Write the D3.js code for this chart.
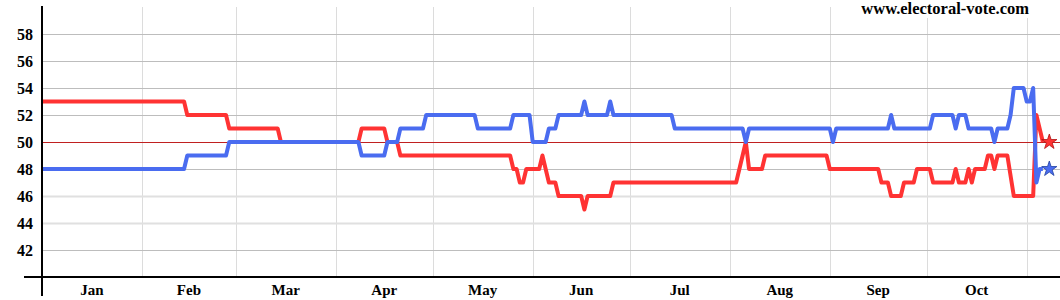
<!DOCTYPE html>
<html>
<head>
<meta charset="utf-8">
<script src="https://cdn.jsdelivr.net/npm/d3@7"></script>
<style>
  body { margin: 0; background: #fff; }
  svg text { font-family: "Liberation Serif", "Times New Roman", serif; font-weight: bold; fill: #000; }
</style>
</head>
<body>
<div id="chart"></div>
<script>
const yTicks = [42, 44, 46, 48, 50, 52, 54, 56, 58];
const months = ["Jan", "Feb", "Mar", "Apr", "May", "Jun", "Jul", "Aug", "Sep", "Oct"];
const monthStarts = ["01-01", "02-01", "03-01", "04-01", "05-01", "06-01",
  "07-01", "08-01", "09-01", "10-01", "11-01"];

// red series, vertices as [date, value]
const redPoints = [
  ["01-01", 53], ["02-14", 53], ["02-15", 52], ["02-27", 52], ["02-28", 51],
  ["03-14", 51], ["03-15", 50], ["04-08", 50], ["04-09", 51], ["04-16", 51],
  ["04-17", 50], ["04-20", 50], ["04-21", 49], ["05-25", 49], ["05-26", 48],
  ["05-27", 48], ["05-28", 47], ["05-29", 47], ["05-30", 48], ["06-03", 48],
  ["06-04", 49], ["06-06", 47], ["06-08", 47], ["06-09", 46], ["06-16", 46],
  ["06-17", 45], ["06-18", 46], ["06-25", 46], ["06-26", 47], ["08-03", 47],
  ["08-06", 50], ["08-07", 48], ["08-11", 48], ["08-12", 49], ["08-31", 49],
  ["09-01", 48], ["09-16", 48], ["09-17", 47], ["09-19", 47], ["09-20", 46],
  ["09-23", 46], ["09-24", 47], ["09-27", 47], ["09-28", 48], ["10-02", 48],
  ["10-03", 47], ["10-09", 47], ["10-10", 48], ["10-11", 47], ["10-13", 47],
  ["10-14", 48], ["10-15", 47], ["10-16", 48], ["10-19", 48], ["10-20", 49],
  ["10-21", 49], ["10-22", 48], ["10-23", 49], ["10-26", 49], ["10-28", 46],
  ["11-03", 46], ["11-04", 52], ["11-05", 51], ["11-06", 50],
];

// blue series
const bluePoints = [
  ["01-01", 48], ["02-14", 48], ["02-15", 49], ["02-27", 49], ["02-28", 50],
  ["04-08", 50], ["04-09", 49], ["04-16", 49], ["04-17", 50], ["04-20", 50],
  ["04-21", 51], ["04-28", 51], ["04-29", 52], ["05-14", 52], ["05-15", 51],
  ["05-25", 51], ["05-26", 52], ["05-31", 52], ["06-01", 50], ["06-05", 50],
  ["06-06", 51], ["06-08", 51], ["06-09", 52], ["06-16", 52], ["06-17", 53],
  ["06-18", 52], ["06-24", 52], ["06-25", 53], ["06-26", 52], ["07-14", 52],
  ["07-15", 51], ["08-05", 51], ["08-06", 50], ["08-07", 51], ["09-01", 51],
  ["09-02", 50], ["09-03", 51], ["09-19", 51], ["09-20", 52], ["09-21", 51],
  ["10-02", 51], ["10-03", 52], ["10-09", 52], ["10-10", 51], ["10-11", 52],
  ["10-13", 52], ["10-14", 51], ["10-21", 51], ["10-22", 50], ["10-23", 51],
  ["10-26", 51], ["10-27", 52], ["10-28", 54], ["10-31", 54], ["11-01", 53],
  ["11-02", 53], ["11-03", 54], ["11-04", 47], ["11-05", 48], ["11-06", 48],
];

// final results (stars)
const finals = [["11-08", 50, "red"], ["11-08", 48, "blue"]];

const W = 1060, H = 300;
const parse = (s) => d3.timeParse("%Y-%m-%d")("2008-" + s);

const x = d3.scaleTime()
  .domain([parse("01-01"), parse("11-11")])
  .range([42, 1059]);
const y = d3.scaleLinear().domain([40, 60]).range([277, 7]);

const colors = { red: "#ff3333", blue: "#4a6cf0" };
const starStroke = { red: "#b01010", blue: "#2040a0" };

const svg = d3.select("#chart").append("svg")
  .attr("width", W)
  .attr("height", H);

// vertical month gridlines
svg.append("g")
  .selectAll("line")
  .data(monthStarts.slice(1))
  .enter()
  .append("line")
  .attr("x1", (d) => Math.round(x(parse(d))) + 0.5)
  .attr("x2", (d) => Math.round(x(parse(d))) + 0.5)
  .attr("y1", 7)
  .attr("y2", 277)
  .attr("stroke", "#dcdcdc");

// horizontal gridlines
svg.append("g")
  .selectAll("line")
  .data(yTicks.filter((v) => v !== 50))
  .enter()
  .append("line")
  .attr("x1", 42)
  .attr("x2", W)
  .attr("y1", (d) => Math.round(y(d)) + 0.5)
  .attr("y2", (d) => Math.round(y(d)) + 0.5)
  .attr("stroke", (d) => (d === 44 || d === 46 ? "#e0e0e0" : "#bdbdbd"))
  .attr("stroke-width", (d) => (d === 44 || d === 46 ? 2 : 1));

// 50% line
svg.append("line")
  .attr("x1", 42)
  .attr("x2", W)
  .attr("y1", Math.round(y(50)) + 0.5)
  .attr("y2", Math.round(y(50)) + 0.5)
  .attr("stroke", "#c02020");

// title box
svg.append("rect")
  .attr("x", 855)
  .attr("y", 0)
  .attr("width", 178)
  .attr("height", 18)
  .attr("fill", "#fff");
svg.append("text")
  .attr("x", 1029)
  .attr("y", 14)
  .attr("text-anchor", "end")
  .style("font-size", "16.5px")
  .text("www.electoral-vote.com");

// series lines
const line = d3.line()
  .x((d) => x(parse(d[0])))
  .y((d) => y(d[1]));

[["red", redPoints], ["blue", bluePoints]].forEach(([key, pts]) => {
  svg.append("path")
    .datum(pts)
    .attr("d", line)
    .attr("fill", "none")
    .attr("stroke", colors[key])
    .attr("stroke-width", 4)
    .attr("stroke-linejoin", "round");
});

// stars
svg.append("g")
  .selectAll("path")
  .data(finals)
  .enter()
  .append("path")
  .attr("d", d3.symbol().type(d3.symbolStar).size(72))
  .attr("transform", (d) => `translate(${x(parse(d[0]))},${y(d[1])})`)
  .attr("fill", (d) => colors[d[2]])
  .attr("stroke", (d) => starStroke[d[2]])
  .attr("stroke-width", 0.8);

// axes lines
svg.append("line")
  .attr("x1", 42).attr("x2", 42)
  .attr("y1", 6).attr("y2", 296)
  .attr("stroke", "#000").attr("stroke-width", 2);
svg.append("line")
  .attr("x1", 24).attr("x2", W)
  .attr("y1", 277).attr("y2", 277)
  .attr("stroke", "#000").attr("stroke-width", 2);

// y tick labels
svg.append("g")
  .selectAll("text")
  .data(yTicks)
  .enter()
  .append("text")
  .attr("x", 33)
  .attr("y", (d) => y(d))
  .attr("dy", "0.35em")
  .attr("text-anchor", "end")
  .style("font-size", "16px")
  .text((d) => d);

// month labels, centred in each month
svg.append("g")
  .selectAll("text")
  .data(months)
  .enter()
  .append("text")
  .attr("x", (d, i) => (x(parse(monthStarts[i])) + x(parse(monthStarts[i + 1]))) / 2)
  .attr("y", 295)
  .attr("text-anchor", "middle")
  .style("font-size", "15px")
  .text((d) => d);
</script>
</body>
</html>
